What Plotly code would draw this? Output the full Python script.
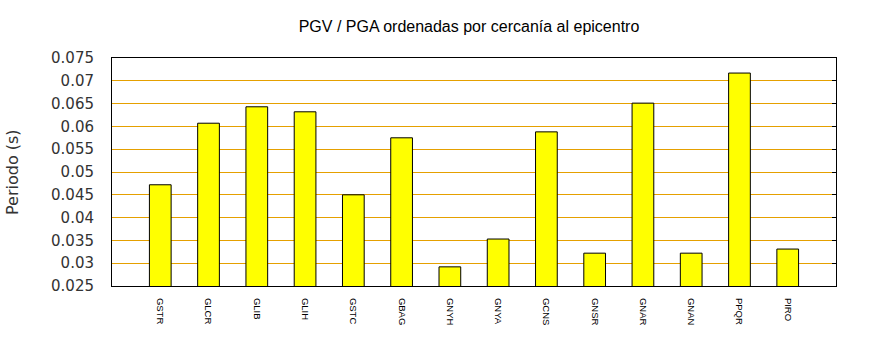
import plotly.graph_objects as go

stations = ["GSTR", "GLCR", "GLIB", "GLIH", "GSTC", "GBAG", "GNYH", "GNYA",
            "GCNS", "GNSR", "GNAR", "GNAN", "PPQR", "PIRO"]
periods = [0.0472, 0.0607, 0.0643, 0.0632, 0.0450, 0.0575, 0.0292, 0.0353,
           0.0588, 0.0322, 0.0651, 0.0322, 0.0717, 0.0331]

y_range = [0.025, 0.075]
y_dtick = 0.005

fig = go.Figure()
fig.add_trace(go.Bar(
    x=stations, y=periods, width=0.45,
    marker=dict(color="#ffff00", line=dict(color="black", width=1)),
    showlegend=False,
))
# invisible trace on the second y-axis so it renders (right-hand inner ticks)
fig.add_trace(go.Scatter(x=[stations[0]], y=[y_range[0]], yaxis="y2",
                         mode="markers", marker=dict(opacity=0),
                         showlegend=False, hoverinfo="skip"))

fig.update_layout(
    width=870, height=350,
    margin=dict(l=112, r=34, t=58, b=64),
    paper_bgcolor="white", plot_bgcolor="white",
    title=dict(text="PGV / PGA ordenadas por cercanía al epicentro",
               x=469/870, xanchor="center", y=1-26/350, yanchor="middle",
               font=dict(family="Liberation Sans", size=16, color="black")),
    xaxis=dict(type="category", range=[-1, 14], showgrid=False,
               showline=True, linecolor="black", linewidth=1, mirror=True,
               ticks="", tickangle=90, ticklabelstandoff=9,
               tickfont=dict(family="Liberation Sans", size=9.5, color="black")),
    yaxis=dict(range=y_range, dtick=y_dtick, tick0=0.025,
               showgrid=True, gridcolor="#e5a000", gridwidth=1,
               showline=True, linecolor="black", linewidth=1, mirror=True,
               ticks="", ticklabelstandoff=14, zeroline=False,
               tickfont=dict(family="DejaVu Sans", size=15, color="#333333")),
    yaxis2=dict(range=y_range, dtick=y_dtick, tick0=0.025, overlaying="y",
                side="right", showgrid=False, showticklabels=False,
                ticks="inside", ticklen=4, tickcolor="black", tickwidth=1,
                showline=False, zeroline=False),
    annotations=[dict(text="Periodo (s)", x=12, xref="paper", y=172,
                      yref="paper", textangle=-90, showarrow=False,
                      xanchor="center", yanchor="middle",
                      font=dict(family="DejaVu Sans", size=16, color="#333333"))],
)
# place annotation using pixel coordinates converted to paper fractions
plot_w = 870 - 112 - 34
plot_h = 350 - 58 - 64
fig.layout.annotations[0].x = (12 - 112) / plot_w
fig.layout.annotations[0].y = (350 - 64 - 172) / plot_h

fig.write_html("out.html")
